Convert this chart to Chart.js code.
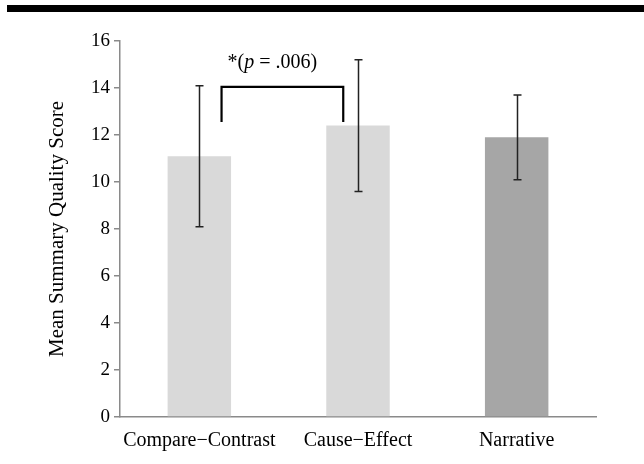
<!DOCTYPE html>
<html>
<head>
<meta charset="utf-8">
<script src="https://cdn.jsdelivr.net/npm/chart.js@4/dist/chart.umd.min.js"></script>
<style>
  html, body { margin: 0; padding: 0; background: #fff; }
  #wrap { width: 644px; height: 464px; }
</style>
</head>
<body>
<div id="wrap"><canvas id="scoreChart" width="644" height="464"></canvas></div>
<script>
const categories = ['Compare\u2212Contrast', 'Cause\u2212Effect', 'Narrative'];
const means = [11.1, 12.4, 11.9];
const errLow = [8.1, 9.6, 10.1];
const errHigh = [14.1, 15.2, 13.7];
const barColors = ['#d9d9d9', '#d9d9d9', '#a6a6a6'];
const yTicks = [0, 2, 4, 6, 8, 10, 12, 14, 16];

const serif = '"Liberation Serif", "Times New Roman", serif';

// top rule + error bars + significance bracket
const extras = {
  id: 'extras',
  beforeDraw(chart) {
    const ctx = chart.ctx;
    ctx.save();
    ctx.fillStyle = '#000';
    ctx.fillRect(7, 5, 637, 7);
    ctx.restore();
  },
  afterDatasetsDraw(chart) {
    const ctx = chart.ctx;
    const x = chart.scales.x;
    const y = chart.scales.y;
    ctx.save();
    ctx.strokeStyle = '#222';
    ctx.lineWidth = 1.5;
    for (let i = 0; i < means.length; i++) {
      const cx = Math.round(x.getPixelForValue(i)) + 0.5;
      const top = y.getPixelForValue(errHigh[i]);
      const bot = y.getPixelForValue(errLow[i]);
      ctx.beginPath();
      ctx.moveTo(cx, top); ctx.lineTo(cx, bot);
      ctx.moveTo(cx - 4, top); ctx.lineTo(cx + 4, top);
      ctx.moveTo(cx - 4, bot); ctx.lineTo(cx + 4, bot);
      ctx.stroke();
    }

    // bracket between first two bars
    const step = x.getPixelForValue(1) - x.getPixelForValue(0);
    const bx1 = x.getPixelForValue(0) + step * 0.14;
    const bx2 = x.getPixelForValue(1) - step * 0.093;
    const byTop = y.getPixelForValue(14.05);
    const byBot = y.getPixelForValue(12.55);
    ctx.strokeStyle = '#000';
    ctx.lineWidth = 2.2;
    ctx.beginPath();
    ctx.moveTo(bx1, byBot); ctx.lineTo(bx1, byTop);
    ctx.lineTo(bx2, byTop); ctx.lineTo(bx2, byBot);
    ctx.stroke();

    // label "*(p = .006)" with italic p
    const parts = [
      ['*(', '20px ' + serif],
      ['p', 'italic 20px ' + serif],
      [' = .006)', '20px ' + serif]
    ];
    let total = 0;
    parts.forEach(p => { ctx.font = p[1]; total += ctx.measureText(p[0]).width; });
    let tx = (bx1 + bx2) / 2 - 10 - total / 2;
    const ty = byTop - 19;
    ctx.fillStyle = '#000';
    ctx.textBaseline = 'alphabetic';
    ctx.textAlign = 'left';
    parts.forEach(p => {
      ctx.font = p[1];
      ctx.fillText(p[0], tx, ty);
      tx += ctx.measureText(p[0]).width;
    });
    ctx.restore();
  }
};

new Chart(document.getElementById('scoreChart').getContext('2d'), {
  type: 'bar',
  data: {
    labels: categories,
    datasets: [{
      data: means,
      backgroundColor: barColors,
      borderWidth: 0,
      barPercentage: 0.4,
      categoryPercentage: 1
    }]
  },
  options: {
    responsive: false,
    animation: false,
    devicePixelRatio: 1,
    layout: { padding: { left: 0, right: 48, top: 41, bottom: 0 } },
    plugins: {
      legend: { display: false },
      tooltip: { enabled: false }
    },
    scales: {
      x: {
        grid: { display: false, drawTicks: false },
        border: { color: '#8a8a8a', width: 1.5 },
        ticks: { color: '#000', font: { family: serif, size: 20 }, padding: 12 },
        afterFit(s) { s.height = 47; }
      },
      y: {
        min: 0,
        max: 16,
        afterBuildTicks(s) { s.ticks = yTicks.map(v => ({ value: v })); },
        grid: { display: true, drawOnChartArea: false, drawTicks: true, tickLength: 6, color: '#8a8a8a', lineWidth: 1.5 },
        border: { color: '#8a8a8a', width: 1.5 },
        ticks: { color: '#000', font: { family: serif, size: 19 }, padding: 4 },
        title: {
          display: true,
          text: 'Mean Summary Quality Score',
          color: '#000',
          font: { family: serif, size: 21 },
          padding: { top: 45, bottom: 0 }
        },
        afterFit(s) { s.width = 120; }
      }
    }
  },
  plugins: [extras]
});
</script>
</body>
</html>
